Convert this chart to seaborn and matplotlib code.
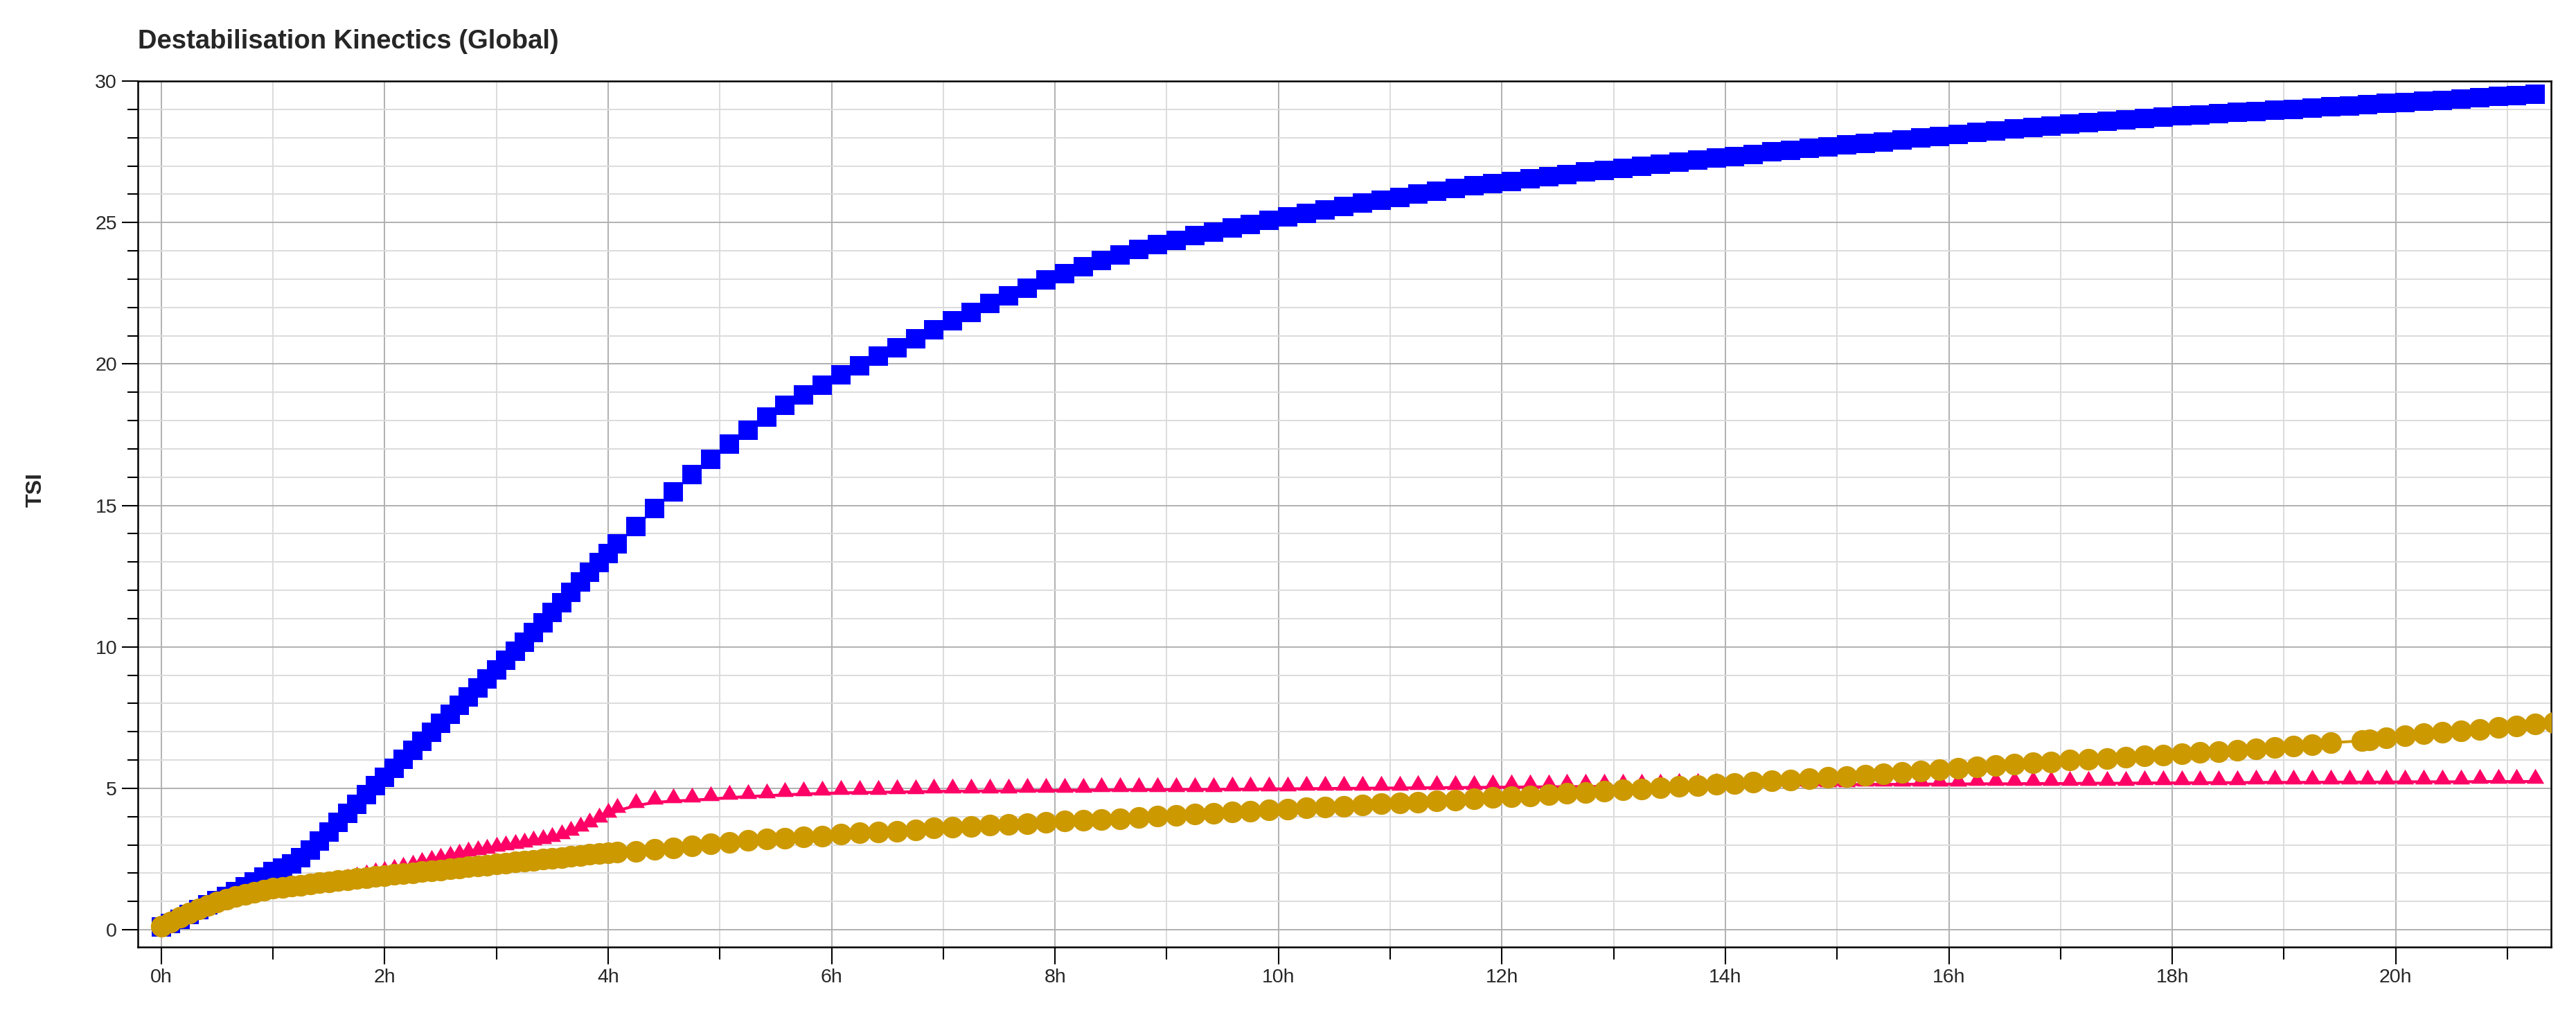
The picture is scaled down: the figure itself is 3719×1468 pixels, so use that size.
import numpy as np
import pandas as pd
import seaborn as sns
import matplotlib.pyplot as plt
from matplotlib.ticker import MultipleLocator, FuncFormatter

# Scan schedule in minutes: every 5 min for the first 4 h, then every 10 min
early_min = list(range(0, 241, 5))
late_min = list(range(245, 1276, 10))
# gold sample missed one scan near 19.5 h, then two close scans
gold_late_min = list(range(245, 1166, 10)) + [1182, 1186] + list(range(1195, 1286, 10))

# TSI values, one row per hour
blue_early = [
    0.10, 0.22, 0.38, 0.55, 0.72, 0.88, 1.03, 1.18, 1.34, 1.51, 1.68, 1.86,
    2.05, 2.17, 2.33, 2.55, 2.83, 3.14, 3.46, 3.79, 4.12, 4.44, 4.77, 5.09,
    5.40, 5.72, 6.03, 6.35, 6.67, 6.99, 7.30, 7.62, 7.93, 8.24, 8.55, 8.86,
    9.19, 9.52, 9.84, 10.16, 10.50, 10.86, 11.22, 11.57, 11.92, 12.29, 12.63, 12.98,
    13.31,
]
blue_late = [
    13.64, 14.26, 14.88, 15.49, 16.08, 16.63,
    17.16, 17.66, 18.12, 18.53, 18.91, 19.26,
    19.62, 19.94, 20.27, 20.58, 20.90, 21.21,
    21.52, 21.83, 22.13, 22.41, 22.68, 22.96,
    23.20, 23.43, 23.66, 23.86, 24.04, 24.22,
    24.38, 24.53, 24.66, 24.80, 24.94, 25.08,
    25.20, 25.33, 25.45, 25.57, 25.69, 25.80,
    25.89, 26.00, 26.10, 26.20, 26.30, 26.38,
    26.46, 26.54, 26.62, 26.70, 26.78, 26.85,
    26.91, 26.98, 27.06, 27.14, 27.20, 27.27,
    27.33, 27.41, 27.49, 27.55, 27.62, 27.67,
    27.74, 27.80, 27.85, 27.91, 27.98, 28.04,
    28.12, 28.19, 28.24, 28.31, 28.36, 28.42,
    28.48, 28.52, 28.58, 28.63, 28.67, 28.73,
    28.77, 28.81, 28.84, 28.89, 28.93, 28.97,
    29.00, 29.05, 29.10, 29.13, 29.17, 29.21,
    29.25, 29.29, 29.32, 29.37, 29.41, 29.45,
    29.49, 29.53,
]

pink_early = [
    0.10, 0.25, 0.40, 0.55, 0.68, 0.80, 0.90, 0.99, 1.07, 1.14, 1.20, 1.25,
    1.30, 1.35, 1.40, 1.45, 1.50, 1.55, 1.60, 1.66, 1.72, 1.79, 1.86, 1.93,
    1.99, 2.06, 2.13, 2.21, 2.30, 2.38, 2.46, 2.53, 2.60, 2.66, 2.72, 2.78,
    2.84, 2.90, 2.95, 3.00, 3.06, 3.12, 3.19, 3.29, 3.41, 3.55, 3.71, 3.88,
    4.04,
]
pink_late = [
    4.21, 4.39, 4.50, 4.55, 4.58, 4.62,
    4.67, 4.71, 4.74, 4.77, 4.80, 4.82,
    4.84, 4.85, 4.86, 4.87, 4.88, 4.89,
    4.90, 4.90, 4.91, 4.91, 4.92, 4.92,
    4.93, 4.93, 4.94, 4.94, 4.95, 4.95,
    4.96, 4.96, 4.96, 4.97, 4.97, 4.98,
    4.98, 4.99, 4.99, 5.00, 5.00, 5.01,
    5.01, 5.02, 5.02, 5.03, 5.03, 5.04,
    5.04, 5.05, 5.05, 5.06, 5.06, 5.07,
    5.07, 5.08, 5.08, 5.09, 5.09, 5.10,
    5.10, 5.11, 5.11, 5.12, 5.12, 5.13,
    5.13, 5.14, 5.14, 5.14, 5.15, 5.15,
    5.15, 5.16, 5.16, 5.16, 5.17, 5.17,
    5.17, 5.18, 5.18, 5.18, 5.19, 5.19,
    5.19, 5.20, 5.20, 5.20, 5.21, 5.21,
    5.21, 5.21, 5.22, 5.22, 5.22, 5.22,
    5.23, 5.23, 5.23, 5.23, 5.24, 5.24,
    5.24, 5.24,
]

gold_early = [
    0.12, 0.28, 0.45, 0.60, 0.74, 0.86, 0.98, 1.08, 1.17, 1.25, 1.33, 1.40,
    1.46, 1.50, 1.54, 1.58, 1.62, 1.66, 1.70, 1.73, 1.77, 1.81, 1.85, 1.88,
    1.92, 1.95, 1.99, 2.02, 2.05, 2.09, 2.12, 2.16, 2.19, 2.22, 2.26, 2.29,
    2.32, 2.36, 2.39, 2.42, 2.46, 2.49, 2.52, 2.56, 2.59, 2.62, 2.66, 2.69,
    2.72,
]
gold_late = [
    2.74, 2.78, 2.84, 2.90, 2.96, 3.03,
    3.09, 3.15, 3.20, 3.23, 3.28, 3.32,
    3.37, 3.42, 3.46, 3.49, 3.54, 3.59,
    3.63, 3.66, 3.69, 3.72, 3.76, 3.80,
    3.84, 3.87, 3.90, 3.93, 3.97, 4.01,
    4.05, 4.08, 4.12, 4.16, 4.19, 4.23,
    4.27, 4.30, 4.34, 4.37, 4.41, 4.45,
    4.49, 4.52, 4.56, 4.59, 4.63, 4.67,
    4.70, 4.74, 4.78, 4.82, 4.86, 4.90,
    4.94, 4.98, 5.02, 5.06, 5.10, 5.14,
    5.18, 5.22, 5.26, 5.30, 5.34, 5.38,
    5.42, 5.46, 5.50, 5.55, 5.60, 5.65,
    5.70, 5.75, 5.80, 5.85, 5.90, 5.94,
    5.99, 6.02, 6.06, 6.10, 6.15, 6.18,
    6.23, 6.26, 6.30, 6.34, 6.40, 6.45,
    6.48, 6.53, 6.61, 6.68, 6.72, 6.79,
    6.87, 6.93, 6.99, 7.03, 7.09, 7.15,
    7.21, 7.27, 7.33,
]

BLUE = "#0000FF"
PINK = "#FF0066"
GOLD = "#CC9900"

# triangle marker with the data point near its base
TRI = [(0, 1.0), (-0.67, -0.15), (0.67, -0.15), (0, 1.0)]


def make_frame(minutes, values):
    return pd.DataFrame({"hours": np.array(minutes) / 60.0, "tsi": values})


blue_df = make_frame(early_min + late_min, blue_early + blue_late)
pink_df = make_frame(early_min + late_min, pink_early + pink_late)
gold_df = make_frame(early_min + gold_late_min, gold_early + gold_late)

sns.set_style("white")
plt.rcParams["font.family"] = ["Liberation Sans", "DejaVu Sans"]

fig = plt.figure(figsize=(37.19, 14.68), dpi=100)
ax = fig.add_axes([0.0535, 0.0688, 0.9368, 0.8515])

sns.lineplot(data=pink_df, x="hours", y="tsi", ax=ax, color=PINK, marker=TRI,
             markersize=27, markeredgewidth=0, linewidth=3.0, errorbar=None,
             zorder=3)
sns.lineplot(data=blue_df, x="hours", y="tsi", ax=ax, color=BLUE, marker="s",
             markersize=20, markeredgewidth=0, linewidth=2.2, errorbar=None,
             zorder=4)
sns.lineplot(data=gold_df, x="hours", y="tsi", ax=ax, color=GOLD, marker="o",
             markersize=22.5, markeredgewidth=0, linewidth=2.9, errorbar=None,
             zorder=5)

ax.set_xlim(-0.21, 21.39)
ax.set_ylim(-0.61, 30)
ax.set_xlabel("")
ax.set_ylabel("")

ax.xaxis.set_major_locator(MultipleLocator(2))
ax.xaxis.set_minor_locator(MultipleLocator(1))
ax.xaxis.set_major_formatter(FuncFormatter(lambda v, p: "%dh" % int(round(v))))
ax.yaxis.set_major_locator(MultipleLocator(5))
ax.yaxis.set_minor_locator(MultipleLocator(1))

ax.set_axisbelow(True)
ax.grid(which="major", color="#b0b0b0", linewidth=1.4)
ax.grid(which="minor", color="#dcdcdc", linewidth=1.4)

ax.tick_params(axis="x", which="major", bottom=True, top=False, length=18,
               width=1.5, direction="out", pad=4.5, labelsize=20.5, color="black")
ax.tick_params(axis="x", which="minor", bottom=True, top=False, length=13,
               width=1.5, direction="out", color="black")
ax.tick_params(axis="y", which="major", left=True, right=False, length=16.5,
               width=1.5, direction="out", pad=5, labelsize=20.5, color="black")
ax.tick_params(axis="y", which="minor", left=True, right=False, length=11,
               width=1.5, direction="out", color="black")

for side in ["left", "right", "top", "bottom"]:
    ax.spines[side].set_visible(True)
    ax.spines[side].set_color("black")
    ax.spines[side].set_linewidth(1.8)

fig.text(199 / 3719, 1 - 70 / 1468, "Destabilisation Kinectics (Global)",
         fontsize=27.5, fontweight="bold", ha="left", va="baseline")
fig.text(52 / 3719, 1 - 707 / 1468, "TSI", fontsize=23, fontweight="bold",
         rotation=90, ha="center", va="center")

fig.savefig("out.png", dpi=100)
